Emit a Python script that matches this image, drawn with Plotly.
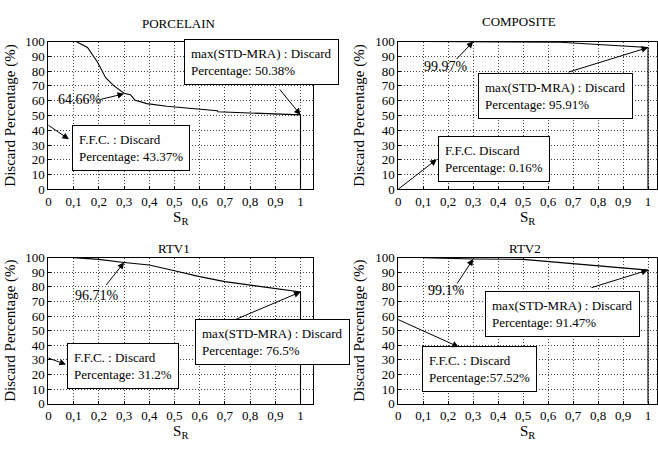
import plotly.graph_objects as go

# ---------------- data ----------------
x_ticks = [0, 0.1, 0.2, 0.3, 0.4, 0.5, 0.6, 0.7, 0.8, 0.9, 1.0]
x_tick_labels = ["0", "0,1", "0,2", "0,3", "0,4", "0,5", "0,6", "0,7", "0,8", "0,9", "1"]
y_ticks = [0, 10, 20, 30, 40, 50, 60, 70, 80, 90, 100]
y_tick_labels = [str(v) for v in y_ticks]

panel_titles = ["PORCELAIN", "COMPOSITE", "RTV1", "RTV2"]

porc_x = [0.1, 0.11, 0.155, 0.195, 0.227, 0.26, 0.30, 0.325, 0.335, 0.342, 0.39, 0.47, 0.58, 0.67, 0.672, 0.8, 0.9, 1.0, 1.0]
porc_y = [100, 100, 96, 86, 75.5, 70, 65, 64, 62, 60.5, 58, 56.2, 54.5, 53.2, 52.5, 51.5, 51, 50.38, 0]

comp_x = [0.1, 0.3, 0.5, 0.65, 0.8, 0.9, 1.0, 1.0]
comp_y = [100, 99.97, 99.85, 99.5, 98.0, 97.0, 95.91, 0]

rtv1_x = [0.1, 0.2, 0.3, 0.4, 0.5, 0.6, 0.7, 0.8, 0.9, 1.0, 1.0]
rtv1_y = [100, 98.8, 96.71, 95, 91, 87, 83.6, 81.2, 78.7, 76.5, 0]

rtv2_x = [0.1, 0.3, 0.5, 0.6, 0.7, 0.8, 0.9, 1.0, 1.0]
rtv2_y = [100, 99.1, 98.8, 97.3, 95.8, 94.4, 92.9, 91.47, 0]

mid_x = 0.3
mid_values = [64.66, 99.97, 96.71, 99.1]
max_values = [50.38, 95.91, 76.5, 91.47]
ffc_values = [43.37, 0.16, 31.2, 57.52]

ffc_texts = ["F.F.C. : Discard<br>Percentage: 43.37%",
             "F.F.C. Discard<br>Percentage: 0.16%",
             "F.F.C. : Discard<br>Percentage: 31.2%",
             "F.F.C. : Discard<br>Percentage:57.52%"]
max_texts = ["max(STD-MRA) : Discard<br>Percentage: %s%%" % v for v in ["50.38", "95.91", "76.5", "91.47"]]

curves = [(porc_x, porc_y), (comp_x, comp_y), (rtv1_x, rtv1_y), (rtv2_x, rtv2_y)]

# ---------------- layout helpers ----------------
W, H = 658, 450
FONT = "Liberation Serif"

def px(v):
    return v / W

def py(v):
    return 1 - v / H

# plot areas in pixels: (left, right, top, bottom, xmax)
areas = [
    (45.7, 312.0, 35.7, 188.7, 1.05),
    (397.7, 658.0, 35.7, 188.7, 1.036),
    (45.7, 312.0, 259.3, 410.3, 1.05),
    (397.7, 658.0, 259.3, 410.3, 1.036),
]

fig = go.Figure()
layout = dict(
    width=W, height=H,
    margin=dict(l=0, r=0, t=0, b=0),
    paper_bgcolor="white", plot_bgcolor="white",
    showlegend=False,
    font=dict(family=FONT, size=13, color="black"),
)

for i, (l, r, t, b, xmax) in enumerate(areas):
    n = "" if i == 0 else str(i + 1)
    xa = dict(
        domain=[px(l), px(r)], range=[0, xmax], anchor="y" + n,
        tickmode="array", tickvals=x_ticks, ticktext=x_tick_labels,
        ticks="inside", ticklen=3, tickcolor="black",
        showline=True, mirror=True, linecolor="black", linewidth=1,
        showgrid=True, gridcolor="#444444", griddash="1px,2px", gridwidth=1,
        zeroline=False, tickfont=dict(family=FONT, size=13),
        title=dict(text="S<sub>R</sub>", font=dict(family=FONT, size=15), standoff=2),
    )
    ya = dict(
        domain=[py(b), py(t)], range=[0, 100], anchor="x" + n,
        tickmode="array", tickvals=y_ticks, ticktext=y_tick_labels,
        ticks="inside", ticklen=3, tickcolor="black",
        showline=True, mirror=True, linecolor="black", linewidth=1,
        showgrid=True, gridcolor="#444444", griddash="1px,2px", gridwidth=1,
        zeroline=False, tickfont=dict(family=FONT, size=13),
        title=dict(text="Discard Percentage (%)", font=dict(family=FONT, size=15), standoff=6),
    )
    layout["xaxis" + n] = xa
    layout["yaxis" + n] = ya
    cx, cy = curves[i]
    fig.add_trace(go.Scatter(x=cx, y=cy, mode="lines", line=dict(color="black", width=1.1),
                             xaxis="x" + n, yaxis="y" + n, hoverinfo="skip"))

fig.update_layout(**layout)

# ---------------- annotations ----------------
title_pos = [(177, 17), (519, 15), (172, 250), (525, 250)]
mid_text_pos = [(77, 96), (446, 62), (95, 298), (446, 293)]
mid_tail = [(-25, 6), (-18, 19), (-19, 24), (-17, 26)]
max_tail = [(-22, -27), (-81, 25), (-66, 28), (-58, 18)]
max_box = [(181.7, 33), (478, 68), (193.3, 323), (485.3, 293.3)]
ffc_head = [(22, 15), (40, -31), (19, 7), (62, 28)]
ffc_box = [(69, 122), (438, 133), (64, 347.7), (421.3, 351)]

anns = []
for i in range(4):
    n = "" if i == 0 else str(i + 1)
    anns.append(dict(text=panel_titles[i], xref="paper", yref="paper",
                     x=px(title_pos[i][0]), y=py(title_pos[i][1]), showarrow=False,
                     font=dict(family=FONT, size=13), xanchor="center", yanchor="middle"))
    # mid value text + arrow
    anns.append(dict(text="%g%%" % mid_values[i], xref="paper", yref="paper",
                     x=px(mid_text_pos[i][0]), y=py(mid_text_pos[i][1]), showarrow=False,
                     font=dict(family=FONT, size=14), xanchor="center", yanchor="middle"))
    anns.append(dict(text="", xref="x" + n, yref="y" + n, x=mid_x, y=mid_values[i],
                     ax=mid_tail[i][0], ay=mid_tail[i][1], showarrow=True,
                     arrowhead=2, arrowsize=1.3, arrowwidth=1, arrowcolor="black"))
    # max box + arrow
    anns.append(dict(text=max_texts[i], xref="paper", yref="paper",
                     x=px(max_box[i][0]), y=py(max_box[i][1]), showarrow=False,
                     xanchor="left", yanchor="top", align="left",
                     bgcolor="white", bordercolor="black", borderwidth=1, borderpad=6,
                     font=dict(family=FONT, size=13)))
    anns.append(dict(text="", xref="x" + n, yref="y" + n, x=1.0, y=max_values[i],
                     ax=max_tail[i][0], ay=max_tail[i][1], showarrow=True,
                     arrowhead=2, arrowsize=1.3, arrowwidth=1, arrowcolor="black"))
    # ffc box + arrow (head at the box)
    anns.append(dict(text=ffc_texts[i], xref="paper", yref="paper",
                     x=px(ffc_box[i][0]), y=py(ffc_box[i][1]), showarrow=False,
                     xanchor="left", yanchor="top", align="left",
                     bgcolor="white", bordercolor="black", borderwidth=1, borderpad=6,
                     font=dict(family=FONT, size=13)))
    anns.append(dict(text="", xref="x" + n, yref="y" + n, x=0.0, y=ffc_values[i],
                     ax=ffc_head[i][0], ay=ffc_head[i][1], showarrow=True,
                     arrowside="start", startarrowhead=2, startarrowsize=1.3,
                     arrowwidth=1, arrowcolor="black"))

fig.update_layout(annotations=anns)
fig.write_html("out.html", config={"displayModeBar": False},
               post_script="document.body.style.margin='0';document.body.style.overflow='hidden';")
